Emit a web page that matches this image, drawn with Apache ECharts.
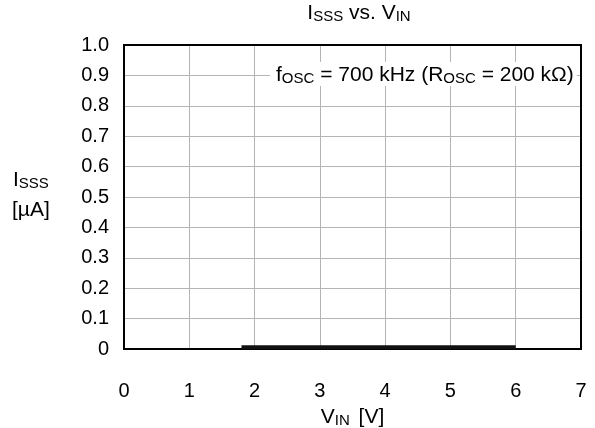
<!DOCTYPE html>
<html>
<head>
<meta charset="utf-8">
<script src="https://cdn.jsdelivr.net/npm/echarts@6/dist/echarts.min.js"></script>
<style>
  html, body { margin: 0; padding: 0; background: #fff; }
  #chart { width: 595px; height: 428px; }
</style>
</head>
<body>
<div id="chart"></div>
<script>
// Standby supply current vs. input voltage
const vinValues = [1.8, 6.0];          // V
const isssValues = [0.006, 0.006];     // µA
const xTicks = [0, 1, 2, 3, 4, 5, 6, 7];
const yTicks = [0, 0.1, 0.2, 0.3, 0.4, 0.5, 0.6, 0.7, 0.8, 0.9, 1.0];

const FONT = 'Liberation Sans, Arial, sans-serif';

const chart = echarts.init(document.getElementById('chart'), null, { renderer: 'canvas' });

// main text and subscript styles
const subRich = {
  m: { fontFamily: FONT, fontSize: 21, fontWeight: 'normal', color: '#000', lineHeight: 24, verticalAlign: 'bottom' },
  u: { fontFamily: FONT, fontSize: 21, fontWeight: 'normal', color: '#000', lineHeight: 24, verticalAlign: 'bottom', padding: [0, 0, 0, 3] },
  s: { fontFamily: FONT, fontSize: 15, fontWeight: 'normal', color: '#000', lineHeight: 16, verticalAlign: 'bottom' }
};

chart.setOption({
  animation: false,
  backgroundColor: '#fff',
  title: {
    text: '{m|I}{s|SSS}{m| vs. V}{s|IN}',
    left: 359,
    textAlign: 'center',
    top: 0,
    padding: 0,
    textStyle: { fontWeight: 'normal', rich: subRich }
  },
  grid: { left: 124, right: 14, top: 45, bottom: 79, containLabel: false, outerBoundsMode: 'none' },
  xAxis: {
    type: 'value',
    min: xTicks[0],
    max: xTicks[xTicks.length - 1],
    interval: 1,
    axisLine: { show: true, onZero: false, lineStyle: { color: '#000', width: 2 } },
    axisTick: { show: false },
    axisLabel: { color: '#000', fontFamily: FONT, fontSize: 20, margin: 32 },
    splitLine: { show: true, lineStyle: { color: '#b4b4b4', width: 1 } },
    name: '{m|V}{s|IN}{u| [V]}',
    nameLocation: 'middle',
    nameGap: 55,
    nameTextStyle: { rich: subRich }
  },
  yAxis: {
    type: 'value',
    min: yTicks[0],
    max: yTicks[yTicks.length - 1],
    interval: 0.1,
    axisLine: { show: true, onZero: false, lineStyle: { color: '#000', width: 2 } },
    axisTick: { show: false },
    axisLabel: {
      color: '#000', fontFamily: FONT, fontSize: 20, margin: 15,
      formatter: v => (Math.abs(v) < 1e-9 ? '0' : v.toFixed(1))
    },
    splitLine: { show: true, lineStyle: { color: '#b4b4b4', width: 1 } }
  },
  graphic: [
    {
      // frame around the plot area
      type: 'rect', z: 10, silent: true,
      shape: { x: 124, y: 45, width: 457, height: 304 },
      style: { fill: 'none', stroke: '#000', lineWidth: 2 }
    },
    {
      type: 'text', z: 20, left: 13, top: 170,
      style: { text: '{m|I}{s|SSS}', rich: subRich }
    },
    {
      type: 'text', z: 20, left: 12, top: 200,
      style: { text: '{m|[µA]}', rich: subRich }
    },
    {
      type: 'text', z: 20, left: 270, top: 62,
      style: {
        text: '{m|f}{s|OSC}{m| = 700 kHz (R}{s|OSC}{m| = 200 kΩ)}',
        rich: subRich,
        backgroundColor: '#fff',
        padding: [0, 3, 0, 6]
      }
    }
  ],
  series: [
    {
      type: 'line',
      data: vinValues.map((v, i) => [v, isssValues[i]]),
      showSymbol: false,
      lineStyle: { color: '#111', width: 4 },
      z: 12
    }
  ]
});
</script>
</body>
</html>
